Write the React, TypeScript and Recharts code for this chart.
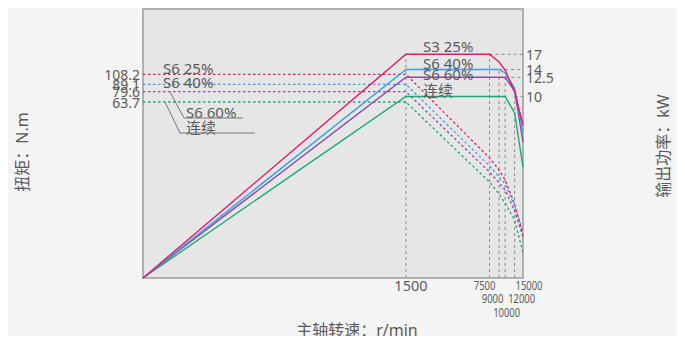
import { LineChart, Line, XAxis, YAxis, ReferenceArea, ReferenceLine } from 'recharts';

// speed points (r/min) shared by every curve
const speeds = [0, 1500, 7500, 9000, 10000, 12000, 15000];

// output power curves, read on the schematic height scale (0..269)
const powerS3_25 = [0, 223.7, 223.7, 216, 208, 186, 153];
const powerS6_40 = [0, 208.5, 208.5, 208.5, 205, 190, 146];
const powerS6_60 = [0, 200.7, 200.7, 200.7, 200.7, 187, 136];
const powerCont = [0, 181.5, 181.5, 181.5, 181.5, 165, 111];

// torque curves on the same schematic scale
const torqueS6_25 = [203.7, 203.7, 120, 108, 98, 74, 43];
const torqueS6_40 = [193.7, 193.7, 112, 101, 94, 72, 46];
const torqueS6_60 = [186.3, 186.3, 106, 95, 88, 67, 41];
const torqueCont = [176, 176, 96, 84, 75, 58, 25];

// axis labels
const speedTicks = [1500, 7500, 9000, 10000, 12000, 15000];
const torqueLevels = [203.7, 193.7, 186.3, 176];
const torqueLabels = ['108.2', '89.1', '79.6', '63.7'];
const powerLevels = [223.7, 208.5, 200.7, 181.5];
const powerLabels = ['17', '14', '12.5', '10'];
const guideSpeeds = [7500, 9000, 10000, 12000];

const PINK = '#e5186c';
const BLUE = '#3a9fe2';
const PURPLE = '#8c4aa0';
const GREEN = '#1aa874';
const GRID = '#8a8a8a';
const TEXT = '#5a5a5a';

// the speed axis in the drawing is compressed above 1500 r/min
const AXIS_STOPS = [0, 0.692, 0.912, 0.937, 0.953, 0.978, 1];
function toPos(rpm: number) {
  for (let i = 1; i < speeds.length; i++) {
    if (rpm <= speeds[i]) {
      const t = (rpm - speeds[i - 1]) / (speeds[i] - speeds[i - 1]);
      return AXIS_STOPS[i - 1] + t * (AXIS_STOPS[i] - AXIS_STOPS[i - 1]);
    }
  }
  return 1;
}

const data = speeds.map((s, i) => ({
  pos: toPos(s),
  p1: powerS3_25[i],
  p2: powerS6_40[i],
  p3: powerS6_60[i],
  p4: powerCont[i],
  t1: torqueS6_25[i],
  t2: torqueS6_40[i],
  t3: torqueS6_60[i],
  t4: torqueCont[i],
}));

const FONT = '"Noto Sans", "Noto Sans CJK SC", sans-serif';

// stacked speed labels under the narrow end of the axis
const speedTickStyle: Record<number, { dx: number; row: number; small: boolean }> = {
  1500: { dx: 5, row: 0, small: false },
  7500: { dx: -5, row: 0, small: true },
  15000: { dx: 6, row: 0, small: true },
  9000: { dx: -6.5, row: 1, small: true },
  12000: { dx: 7, row: 1, small: true },
  10000: { dx: 1.5, row: 2, small: true },
};

function SpeedTick(props: any) {
  const { x, payload } = props;
  const speed = speedTicks.find((s) => Math.abs(toPos(s) - payload.value) < 1e-6) ?? 0;
  const st = speedTickStyle[speed];
  if (!st) return null;
  const label = String(speed);
  const y = 285 + st.row * 13.5;
  return (
    <text
      x={x + st.dx}
      y={y}
      textAnchor="middle"
      dominantBaseline="central"
      fill={TEXT}
      fontSize={st.small ? 12 : 14.5}
      fontFamily={FONT}
      {...(st.small ? { textLength: label.length * 5.4, lengthAdjust: 'spacingAndGlyphs' } : {})}
    >
      {label}
    </text>
  );
}

function TorqueTick(props: any) {
  const { x, y, payload } = props;
  const idx = torqueLevels.indexOf(payload.value);
  return (
    <text x={x} y={y} textAnchor="end" dominantBaseline="central" fill={TEXT} fontSize={14} fontFamily={FONT}>
      {torqueLabels[idx]}
    </text>
  );
}

function PowerTick(props: any) {
  const { x, y, payload } = props;
  const idx = powerLevels.indexOf(payload.value);
  return (
    <text x={x} y={y} textAnchor="start" dominantBaseline="central" fill={TEXT} fontSize={14} fontFamily={FONT}>
      {powerLabels[idx]}
    </text>
  );
}

export default function App() {
  const tStyle = { fill: TEXT, fontSize: 15, fontFamily: FONT } as const;
  return (
    <div style={{ position: 'relative', width: 685, height: 344, margin: -8, background: '#f4f4f4' }}>
      <LineChart width={685} height={344} data={data} margin={{ top: 9, right: 0, bottom: 0, left: 0 }}>
        <XAxis
          dataKey="pos"
          type="number"
          domain={[0, 1]}
          ticks={speedTicks.map(toPos)}
          interval={0}
          height={66}
          axisLine={false}
          tickLine={false}
          tick={<SpeedTick />}
        />
        <YAxis
          yAxisId="left"
          type="number"
          domain={[0, 269]}
          ticks={torqueLevels}
          interval={0}
          width={143}
          axisLine={false}
          tickLine={false}
          tickSize={0}
          tickMargin={3}
          tick={<TorqueTick />}
        />
        <YAxis
          yAxisId="right"
          orientation="right"
          type="number"
          domain={[0, 269]}
          ticks={powerLevels}
          interval={0}
          width={162}
          axisLine={false}
          tickLine={false}
          tickSize={0}
          tickMargin={3}
          tick={<PowerTick />}
        />
        <ReferenceArea
          yAxisId="left"
          x1={0}
          x2={1}
          y1={0}
          y2={269}
          fill="#e6e6e6"
          fillOpacity={1}
          stroke="#9a9a9a"
          strokeWidth={1.5}
        />
        {/* guide lines from the corner points */}
        <ReferenceLine
          yAxisId="right"
          segment={[{ x: toPos(1500), y: 0 }, { x: toPos(1500), y: powerLevels[0] }]}
          stroke={GRID}
          strokeDasharray="3 3"
        />
        {guideSpeeds.map((s, i) => (
          <ReferenceLine
            key={'v' + s}
            yAxisId="right"
            segment={[{ x: toPos(s), y: 0 }, { x: toPos(s), y: powerLevels[i] }]}
            stroke={GRID}
            strokeDasharray="3 3"
          />
        ))}
        {guideSpeeds.map((s, i) => (
          <ReferenceLine
            key={'h' + s}
            yAxisId="right"
            segment={[{ x: toPos(s), y: powerLevels[i] }, { x: 1, y: powerLevels[i] }]}
            stroke={GRID}
            strokeDasharray="3 3"
          />
        ))}
        <Line yAxisId="left" dataKey="t4" stroke={GREEN} strokeWidth={1.3} strokeDasharray="2.5 2.5" dot={false} isAnimationActive={false} />
        <Line yAxisId="left" dataKey="t3" stroke={PURPLE} strokeWidth={1.3} strokeDasharray="2.5 2.5" dot={false} isAnimationActive={false} />
        <Line yAxisId="left" dataKey="t2" stroke={BLUE} strokeWidth={1.3} strokeDasharray="2.5 2.5" dot={false} isAnimationActive={false} />
        <Line yAxisId="left" dataKey="t1" stroke={PINK} strokeWidth={1.3} strokeDasharray="2.5 2.5" dot={false} isAnimationActive={false} />
        <Line yAxisId="right" dataKey="p4" stroke={GREEN} strokeWidth={1.4} dot={false} isAnimationActive={false} />
        <Line yAxisId="right" dataKey="p3" stroke={PURPLE} strokeWidth={1.4} dot={false} isAnimationActive={false} />
        <Line yAxisId="right" dataKey="p2" stroke={BLUE} strokeWidth={1.4} dot={false} isAnimationActive={false} />
        <Line yAxisId="right" dataKey="p1" stroke={PINK} strokeWidth={1.4} dot={false} isAnimationActive={false} />
      </LineChart>
      <svg width={685} height={344} style={{ position: 'absolute', left: 0, top: 0, pointerEvents: 'none' }}>
        <g dominantBaseline="central">
          <text x={423} y={46} {...tStyle}>S3 25%</text>
          <text x={423} y={62.5} {...tStyle}>S6 40%</text>
          <text x={423} y={73.5} {...tStyle}>S6 60%</text>
          <text x={423} y={90} {...tStyle}>连续</text>
          <text x={163} y={68} {...tStyle}>S6 25%</text>
          <text x={163} y={81.5} {...tStyle}>S6 40%</text>
          <text x={186} y={111.5} {...tStyle}>S6 60%</text>
          <text x={186} y={126.5} {...tStyle}>连续</text>
        </g>
        <polyline points="170,92 184,118 243,118" fill="none" stroke="#777" strokeWidth={1} />
        <polyline points="165,102 180,133 255,133" fill="none" stroke="#777" strokeWidth={1} />
        <text x={22} y={152} transform="rotate(-90 22 152)" textAnchor="middle" dominantBaseline="central" fill={TEXT} fontSize={16} fontFamily={FONT}>
          扭矩：N.m
        </text>
        <text x={663} y={146} transform="rotate(-90 663 146)" textAnchor="middle" dominantBaseline="central" fill={TEXT} fontSize={16} fontFamily={FONT}>
          输出功率：kW
        </text>
        <text x={357} y={330} textAnchor="middle" dominantBaseline="central" fill={TEXT} fontSize={16} fontFamily={FONT}>
          主轴转速：r/min
        </text>
      </svg>
    </div>
  );
}
